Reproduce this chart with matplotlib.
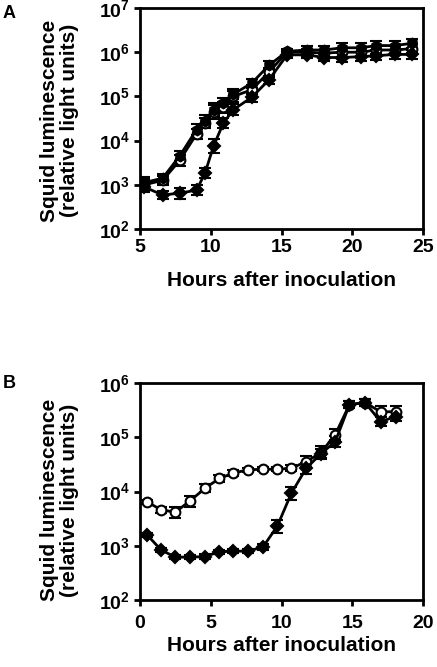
import numpy as np
import matplotlib
matplotlib.use("Agg")
import matplotlib.pyplot as plt
from matplotlib.ticker import LogLocator, FuncFormatter, NullLocator

plt.rcParams['font.family'] = ['Liberation Sans', 'DejaVu Sans']
plt.rcParams['font.weight'] = 'bold'
plt.rcParams['mathtext.fontset'] = 'custom'
plt.rcParams['mathtext.rm'] = 'Liberation Sans:bold'
plt.rcParams['mathtext.bf'] = 'Liberation Sans:bold'

# panel A data (log10 of luminescence)
tA = [5.3, 6.6, 7.8, 9.0, 9.6, 10.2, 10.9, 11.6, 12.9, 14.1, 15.4, 16.8, 18.0, 19.3, 20.6, 21.7, 23.0, 24.2]
a_open = [3.0, 3.1, 3.55, 4.15, 4.4, 4.65, 4.75, 5.0, 5.15, 5.55, 6.0, 6.0, 5.98, 6.0, 6.0, 6.05, 6.05, 6.08]
a_fill = [3.05, 3.15, 3.65, 4.25, 4.45, 4.7, 4.85, 5.05, 5.3, 5.7, 6.02, 6.05, 6.05, 6.1, 6.1, 6.15, 6.15, 6.2]
a_diam = [2.95, 2.77, 2.81, 2.88, 3.27, 3.88, 4.4, 4.7, 4.98, 5.37, 5.94, 5.94, 5.88, 5.88, 5.9, 5.92, 5.95, 5.95]
a_err = [0.12, 0.1, 0.12, 0.12, 0.12, 0.15, 0.12, 0.12, 0.1, 0.1, 0.06, 0.08, 0.08, 0.1, 0.1, 0.1, 0.1, 0.1]

# panel B data (log10 of luminescence)
tB = [0.5, 1.5, 2.5, 3.5, 4.6, 5.6, 6.6, 7.65, 8.7, 9.7, 10.7, 11.75, 12.8, 13.8, 14.8, 15.9, 17.0, 18.1]
b_open = [3.81, 3.66, 3.62, 3.82, 4.06, 4.24, 4.34, 4.4, 4.41, 4.41, 4.43, 4.55, 4.72, 5.05, 5.6, 5.64, 5.47, 5.47]
b_diam = [3.2, 2.92, 2.79, 2.79, 2.8, 2.89, 2.9, 2.9, 2.98, 3.36, 3.97, 4.43, 4.7, 4.92, 5.6, 5.64, 5.29, 5.38]
b_err_open = [0.04, 0.05, 0.1, 0.1, 0.07, 0.06, 0.05, 0.04, 0.04, 0.04, 0.05, 0.1, 0.12, 0.1, 0.06, 0.06, 0.1, 0.1]
b_err_diam = [0.04, 0.04, 0.04, 0.04, 0.04, 0.04, 0.04, 0.04, 0.05, 0.12, 0.12, 0.1, 0.08, 0.1, 0.06, 0.06, 0.08, 0.08]

fig = plt.figure(figsize=(4.37, 6.67), dpi=100)
W, H = 437.0, 667.0
axA = fig.add_axes([140/W, 1-229/H, 283/W, 221/H])
axB = fig.add_axes([140/W, 1-600/H, 283/W, 217/H])


def series(ax, t, logy, err, marker, face, ms=7):
    y = 10**np.array(logy)
    e = np.array(err)
    lo = y - 10**(np.array(logy) - e)
    hi = 10**(np.array(logy) + e) - y
    ax.errorbar(t, y, yerr=[lo, hi], color='black', lw=2, marker=marker, ms=ms,
                mfc=face, mec='black', mew=1.5, capsize=4, capthick=1.5, elinewidth=1.5)


series(axA, tA, a_open, a_err, 'o', 'white')
series(axA, tA, a_fill, a_err, 'h', 'black')
series(axA, tA, a_diam, a_err, 'D', 'black', 6.5)

series(axB, tB, b_open, b_err_open, 'o', 'white')
series(axB, tB, b_diam, b_err_diam, 'D', 'black', 6.5)

fmt = FuncFormatter(lambda v, p: r'$\mathbf{10^{%d}}$' % int(round(np.log10(v))))
for ax, xl, yl, xt, xpad, xlab_y, ylab_y in [
        (axA, (5, 25), (1e2, 1e7), [5, 10, 15, 20, 25], 3.5, -0.19, 0.49),
        (axB, (0, 20), (1e2, 1e6), [0, 5, 10, 15, 20], 7, -0.165, 0.46)]:
    ax.set_yscale('log')
    ax.set_xlim(*xl)
    ax.set_ylim(*yl)
    ax.set_xticks(xt)
    ax.yaxis.set_major_locator(LogLocator(base=10, numticks=10))
    ax.yaxis.set_minor_locator(NullLocator())
    ax.yaxis.set_major_formatter(fmt)
    for s in ax.spines.values():
        s.set_linewidth(2)
    ax.tick_params(width=2, length=4, labelsize=14)
    ax.tick_params(axis='y', pad=3)
    ax.tick_params(axis='x', pad=xpad)
    for lab in ax.get_xticklabels():
        lab.set_fontweight('bold')
    ax.set_xlabel('Hours after inoculation', fontsize=15, fontweight='bold')
    ax.xaxis.set_label_coords(0.5, xlab_y)
    ax.set_ylabel('Squid luminescence\n(relative light units)', fontsize=15,
                  fontweight='bold', linespacing=1.05)
    ax.yaxis.set_label_coords(-0.215, ylab_y)

fig.text(3/W, 1-14/H, 'A', fontsize=13, fontweight='bold', va='center')
fig.text(3/W, 1-384/H, 'B', fontsize=13, fontweight='bold', va='center')

fig.savefig('out.png', dpi=100)
